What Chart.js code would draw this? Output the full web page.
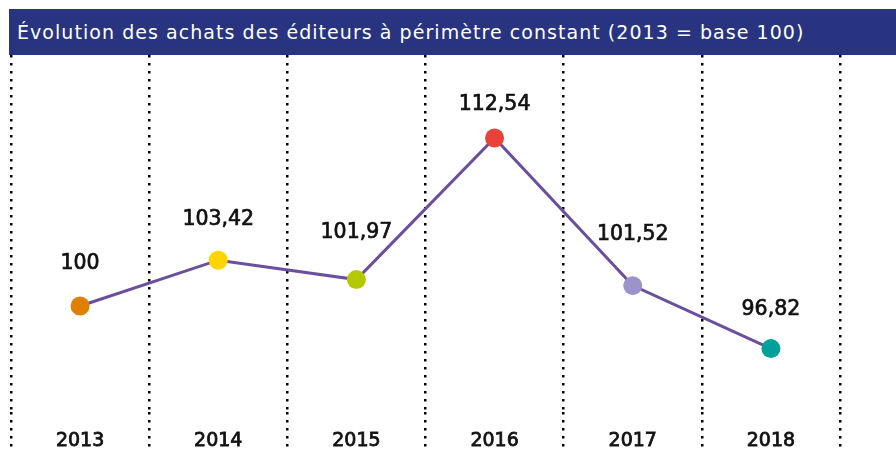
<!DOCTYPE html>
<html>
<head>
<meta charset="utf-8">
<script src="https://cdn.jsdelivr.net/npm/chart.js@4/dist/chart.umd.min.js"></script>
<style>
    html, body { margin: 0; padding: 0; background: #fff; }
    #wrap { position: relative; width: 896px; height: 452px; }
    #title {
        position: absolute; left: 9px; top: 9px; width: 887px; height: 46px;
        background: #283480; color: #fff;
        font-family: 'DejaVu Sans', sans-serif; font-size: 19px;
        letter-spacing: 1.05px;
        line-height: 46px; padding-left: 8px; box-sizing: border-box;
        white-space: nowrap;
    }
    canvas { position: absolute; left: 0; top: 0; }
</style>
</head>
<body>
<div id="wrap">
    <canvas id="chart" width="896" height="452"></canvas>
    <div id="title">Évolution des achats des éditeurs à périmètre constant (2013 = base 100)</div>
</div>
<script>
'use strict';

const years = ['2013', '2014', '2015', '2016', '2017', '2018'];
const values = [100, 103.42, 101.97, 112.54, 101.52, 96.82];
const labelsText = ['100', '103,42', '101,97', '112,54', '101,52', '96,82'];
const pointColors = ['#e08000', '#ffd500', '#b5c900', '#e8423b', '#9b93c9', '#00a19b'];
// distance label / point (px), comme sur l'original
const labelOffsets = [44, 43, 49, 35, 53, 41.5];

const FONT = "'DejaVu Sans', sans-serif";

// étiquettes de valeur au-dessus des points
const valueLabels = {
    id: 'valueLabels',
    afterDatasetsDraw(chart) {
        const ctx = chart.ctx;
        const meta = chart.getDatasetMeta(0);
        ctx.save();
        ctx.font = '20.5px ' + FONT;
        ctx.fillStyle = '#111';
        ctx.strokeStyle = '#111';
        ctx.lineWidth = 0.7;
        ctx.textAlign = 'center';
        ctx.textBaseline = 'alphabetic';
        meta.data.forEach((pt, i) => {
            const y = pt.y - labelOffsets[i] + 7.5;
            ctx.fillText(labelsText[i], pt.x, y);
            ctx.strokeText(labelsText[i], pt.x, y);
        });
        ctx.restore();
    }
};

new Chart(document.getElementById('chart').getContext('2d'), {
    type: 'line',
    data: {
        labels: years,
        datasets: [{
            data: values,
            borderColor: '#6a4f9f',
            borderWidth: 3,
            pointBackgroundColor: pointColors,
            pointBorderColor: pointColors,
            pointRadius: 9.5,
            pointBorderWidth: 0,
            tension: 0
        }]
    },
    options: {
        responsive: false,
        animation: false,
        layout: { padding: { left: 11, right: 56, top: 55, bottom: 0 } },
        plugins: {
            legend: { display: false },
            tooltip: { enabled: false }
        },
        scales: {
            x: {
                offset: true,
                afterFit: s => { s.height = 40; },
                grid: {
                    offset: true,
                    color: '#000',
                    lineWidth: 2.5,
                    tickLength: 42,
                    tickColor: '#000',
                    tickWidth: 2.5,
                    tickBorderDash: [2.5, 5.5]
                },
                border: { display: false, dash: [2.5, 5.5] },
                ticks: {
                    color: '#111',
                    padding: -24,
                    textStrokeColor: '#111',
                    textStrokeWidth: 0.8,
                    font: { family: FONT, size: 19 }
                }
            },
            y: {
                display: false,
                min: 92.09,
                max: 118.73
            }
        }
    },
    plugins: [valueLabels]
});
</script>
</body>
</html>
